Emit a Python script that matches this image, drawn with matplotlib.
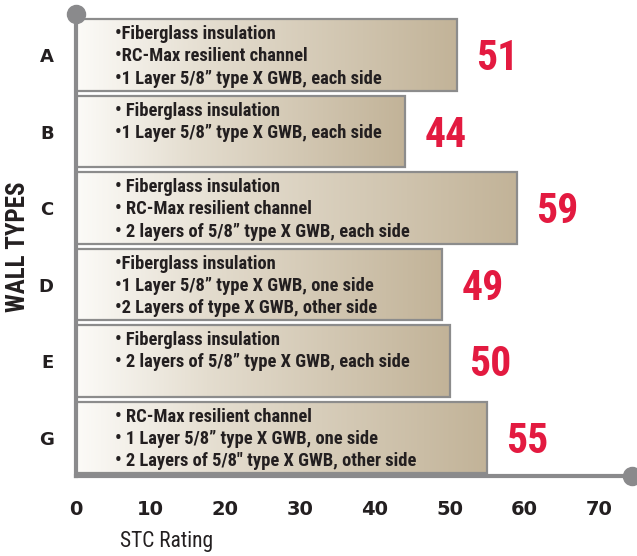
import numpy as np
import matplotlib.pyplot as plt
import matplotlib.font_manager as fm
from matplotlib.colors import LinearSegmentedColormap

walls = ['A', 'B', 'C', 'D', 'E', 'G']
stc = [51, 44, 59, 49, 50, 55]
notes = [
    ['•Fiberglass insulation', '•RC-Max resilient channel', '•1 Layer 5/8” type X GWB, each side'],
    ['• Fiberglass insulation', '•1 Layer 5/8” type X GWB, each side'],
    ['• Fiberglass insulation', '• RC-Max resilient channel', '• 2 layers of 5/8” type X GWB, each side'],
    ['•Fiberglass insulation', '•1 Layer 5/8” type X GWB, one side', '•2 Layers of type X GWB, other side'],
    ['• Fiberglass insulation', '• 2 layers of 5/8” type X GWB, each side'],
    ['• RC-Max resilient channel', '• 1 Layer 5/8” type X GWB, one side', '• 2 Layers of 5/8" type X GWB, other side'],
]
xticks = list(range(0, 80, 10))


def condensed(bold):
    # look for a narrow / condensed face among the installed fonts
    prefs = ['Liberation Sans Narrow', 'Roboto Condensed', 'Open Sans Condensed',
             'Noto Sans Condensed', 'DejaVu Sans']
    best = None
    for f in fm.fontManager.ttflist:
        narrow_face = ('Narrow' in f.name or 'Condensed' in f.name
                       or 'condensed' in str(f.stretch))
        if not narrow_face or f.style != 'normal':
            continue
        w = f.weight if isinstance(f.weight, int) else (700 if 'bold' in str(f.weight) else 400)
        if bold != (w >= 600):
            continue
        rank = next((i for i, p in enumerate(prefs) if f.name.startswith(p)), len(prefs))
        if 'extra' in str(f.stretch) or 'ultra' in str(f.stretch):
            rank += 10
        if best is None or rank < best[0]:
            best = (rank, f.fname)
    if best:
        return fm.FontProperties(fname=best[1])
    return fm.FontProperties(family='DejaVu Sans', weight='bold' if bold else 'normal')


nb = condensed(True)
nr = condensed(False)

grey = '#8a8a8c'
red = '#e31a40'
ink = '#231f20'

fig = plt.figure(figsize=(6.37, 5.56), dpi=100)
ax = fig.add_axes([76 / 637, 80 / 556, 556 / 637, 462 / 556])

ypos = np.arange(len(walls))
bars = ax.barh(ypos, stc, height=0.93, color='none', edgecolor='#8c8c8c',
               linewidth=1.6, zorder=3)

# left-to-right gradient inside each bar
cmap = LinearSegmentedColormap.from_list(
    'tan', [(0, '#fcfbf8'), (0.35, '#e4ddcf'), (1, '#c2b398')])
grad = np.linspace(0, 1, 256).reshape(1, -1)
for b in bars:
    x0, y0, w, h = b.get_x(), b.get_y(), b.get_width(), b.get_height()
    im = ax.imshow(grad, extent=[x0, x0 + w, y0, y0 + h], aspect='auto',
                   cmap=cmap, zorder=2, interpolation='bilinear')
    im.set_clip_path(b)

for i, (v, lines) in enumerate(zip(stc, notes)):
    ax.text(5.2, i - 0.465 + 0.075, '\n'.join(lines), ha='left', va='top',
            fontproperties=nb, fontsize=13.3, color=ink,
            linespacing=1.3, zorder=4)
    ax.text(v + 2.6, i + 0.05, str(v), ha='left', va='center',
            fontproperties=nb, fontsize=30, color=red, zorder=4)

ax.set_xlim(0, 74.4)
ax.set_ylim(5.503, -0.536)
ax.set_xticks(xticks)
ax.set_xticklabels([str(t) for t in xticks], fontsize=14, weight='bold', color=ink)
ax.set_yticks(ypos)
ax.set_yticklabels(walls, fontsize=13, weight='bold', color=ink)
ax.tick_params(axis='x', length=0, pad=17)
ax.tick_params(axis='y', length=0, pad=16)

for s in ['top', 'right']:
    ax.spines[s].set_visible(False)
for s in ['left', 'bottom']:
    ax.spines[s].set_color(grey)
    ax.spines[s].set_linewidth(3)
    ax.spines[s].set_zorder(5)

ax.plot([0], [1], 'o', transform=ax.transAxes, clip_on=False, ms=13,
        color=grey, zorder=6)
ax.plot([1], [0], 'o', transform=ax.transAxes, clip_on=False, ms=13,
        color=grey, zorder=6)

fig.text(18 / 637, 1 - 247 / 556, 'WALL TYPES', rotation=90, ha='center',
         va='center', fontproperties=nb, fontsize=18, color=ink)
fig.text(120 / 637, 1 - 541 / 556, 'STC Rating', ha='left', va='center',
         fontproperties=nr, fontsize=15.5, color=ink)

fig.savefig('out.png', dpi=100)
